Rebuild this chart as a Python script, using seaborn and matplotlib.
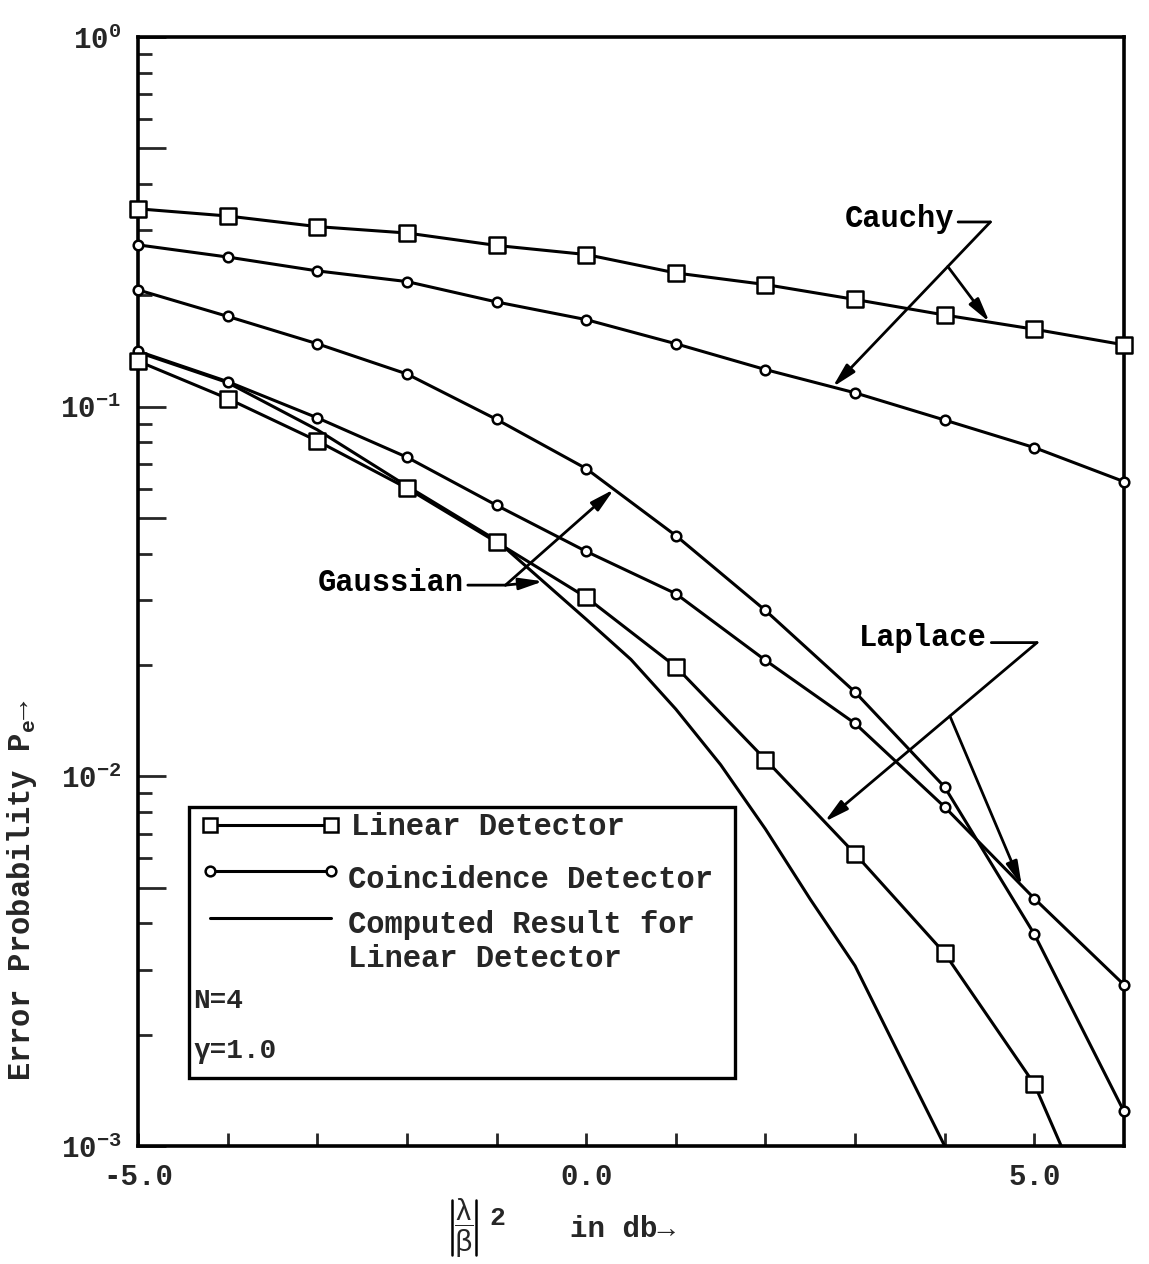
import numpy as np
import matplotlib
matplotlib.use("Agg")
import matplotlib.pyplot as plt
from matplotlib.ticker import FixedLocator, FuncFormatter, NullFormatter
from matplotlib.patches import Rectangle
from matplotlib.lines import Line2D
import seaborn as sns

# Signal-to-noise ratio |lambda/beta|^2 in dB
snr_db = [-5, -4, -3, -2, -1, 0, 1, 2, 3, 4, 5, 6]

# Error probabilities, N = 4, gamma = 1.0
cauchy_linear = [0.343, 0.328, 0.307, 0.295, 0.273, 0.258, 0.230, 0.214, 0.195, 0.177, 0.162, 0.147]
cauchy_coincidence = [0.274, 0.254, 0.233, 0.218, 0.192, 0.172, 0.148, 0.126, 0.109, 0.092, 0.0775, 0.0627]
gaussian_coincidence = [0.207, 0.1755, 0.148, 0.1226, 0.0924, 0.068, 0.0448, 0.0281, 0.0169, 0.00935, 0.00374, 0.00124]
laplace_coincidence = [0.1413, 0.1169, 0.0933, 0.073, 0.0541, 0.0406, 0.0312, 0.0206, 0.0139, 0.00826, 0.00467, 0.00273]

laplace_linear_db = [-5, -4, -3, -2, -1, 0, 1, 2, 3, 4, 5, 5.3]
laplace_linear = [0.1328, 0.1052, 0.0808, 0.0602, 0.043, 0.0305, 0.0198, 0.0111, 0.00617, 0.00332, 0.00147, 0.001]

computed_db = [-5, -4, -3, -2, -1, 0, 0.5, 1, 1.5, 2, 2.5, 3, 3.5, 4]
computed_linear = [0.1404, 0.1162, 0.0866, 0.061, 0.0435, 0.0266, 0.0207, 0.0152, 0.01075,
                   0.0072, 0.00465, 0.00307, 0.00175, 0.001]

x_ticks_labelled = [-5, 0, 5]
x_ticks_minor = [-4, -3, -2, -1, 1, 2, 3, 4]

sns.set_style("ticks")
plt.rcParams["font.family"] = ["Liberation Mono", "DejaVu Sans Mono"]
plt.rcParams["font.weight"] = "bold"
plt.rcParams["mathtext.default"] = "regular"
plt.rcParams["mathtext.fontset"] = "stix"

fig = plt.figure(figsize=(11.49, 12.64), dpi=100)
ax = fig.add_axes([0.1201, 0.0934, 0.8581, 0.8773])
ax.set_yscale("log")


def curve(x, y):
    sns.lineplot(x=x, y=y, ax=ax, color="black", linewidth=2.2, estimator=None, zorder=2)


def marks(x, y, shape, size):
    sns.scatterplot(x=x, y=y, ax=ax, marker=shape, s=size, color="white",
                    edgecolor="black", linewidth=1.8, zorder=4, clip_on=False, legend=False)


SQ, CI = 125, 48

curve(snr_db, cauchy_linear)
marks(snr_db, cauchy_linear, "s", SQ)
curve(snr_db, cauchy_coincidence)
marks(snr_db, cauchy_coincidence, "o", CI)
curve(snr_db, gaussian_coincidence)
marks(snr_db, gaussian_coincidence, "o", CI)
curve(snr_db, laplace_coincidence)
marks(snr_db, laplace_coincidence, "o", CI)
curve(laplace_linear_db, laplace_linear)
marks(laplace_linear_db[:11], laplace_linear[:11], "s", SQ)
curve(computed_db, computed_linear)

ax.set_xlim(-5, 6)
ax.set_ylim(1e-3, 1)
ax.set_xlabel("")
ax.set_ylabel("")

# x axis: inward ticks at every dB, labels at -5, 0, 5
ax.xaxis.set_major_locator(FixedLocator(x_ticks_labelled))
ax.xaxis.set_minor_locator(FixedLocator(x_ticks_minor))
ax.xaxis.set_major_formatter(FuncFormatter(lambda v, p: f"{v:.1f}"))
ax.xaxis.set_minor_formatter(NullFormatter())
ax.tick_params(axis="x", which="both", direction="in", length=9.5, width=2,
               top=False, labelsize=21, pad=12)

# y axis: long ticks at decades and 5x decades, short ticks elsewhere
decades = [1e-3, 1e-2, 1e-1, 1.0]
long_ticks = sorted(decades + [5e-3, 5e-2, 5e-1])
short_ticks = [k * 10.0 ** d for d in (-3, -2, -1) for k in (2, 3, 4, 6, 7, 8, 9)]


def decade_label(v, pos):
    e = int(round(np.log10(v)))
    if np.isclose(v, 10.0 ** e):
        return r"$10^{%d}$" % e
    return ""


ax.yaxis.set_major_locator(FixedLocator(long_ticks))
ax.yaxis.set_minor_locator(FixedLocator(short_ticks))
ax.yaxis.set_major_formatter(FuncFormatter(decade_label))
ax.yaxis.set_minor_formatter(NullFormatter())
ax.tick_params(axis="y", which="major", direction="in", length=20, width=2,
               right=False, labelsize=21, pad=12)
ax.tick_params(axis="y", which="minor", direction="in", length=10, width=2, right=False)

for s in ax.spines.values():
    s.set_linewidth(2.6)
    s.set_color("black")

# Curve family annotations
txt_kw = dict(fontsize=22, fontweight="bold", ha="left", va="baseline", color="black")
arrow_kw = dict(arrowstyle="-|>,head_length=0.9,head_width=0.22", color="black", lw=2.0,
                mutation_scale=16, shrinkA=0, shrinkB=0)
line_kw = dict(arrowstyle="-", color="black", lw=2.0, shrinkA=0, shrinkB=0)


def on_curve(xs, ys, x):
    return 10 ** np.interp(x, xs, np.log10(ys))


def along(p0, p1, t):
    x = p0[0] + t * (p1[0] - p0[0])
    ly = np.log10(p0[1]) + t * (np.log10(p1[1]) - np.log10(p0[1]))
    return (x, 10 ** ly)


def arrow(start, end):
    ax.annotate("", xy=end, xytext=start, arrowprops=arrow_kw, annotation_clip=False)


def leader(start, end):
    ax.annotate("", xy=end, xytext=start, arrowprops=line_kw, annotation_clip=False)


# Cauchy
ax.text(2.88, 0.3065, "Cauchy", **txt_kw)
c_elbow = (4.51, 0.316)
leader((4.15, 0.316), c_elbow)
c_tip = (2.75, on_curve(snr_db, cauchy_coincidence, 2.75))
arrow(c_elbow, c_tip)
arrow(along(c_elbow, c_tip, 0.27), (4.5, on_curve(snr_db, cauchy_linear, 4.5)))

# Gaussian
ax.text(-3.0, 0.0317, "Gaussian", **txt_kw)
g_elbow = (-0.90, 0.0329)
leader((-1.32, 0.0329), g_elbow)
arrow(g_elbow, (0.31, on_curve(snr_db, gaussian_coincidence, 0.31)))
arrow(g_elbow, (-0.48, on_curve(computed_db, computed_linear, -0.48)))

# Laplace
ax.text(3.04, 0.02245, "Laplace", **txt_kw)
l_elbow = (5.03, 0.0230)
leader((4.52, 0.0230), l_elbow)
l_tip = (2.66, on_curve(laplace_linear_db, laplace_linear, 2.66))
arrow(l_elbow, l_tip)
arrow(along(l_elbow, l_tip, 0.41), (4.86, on_curve(snr_db, laplace_coincidence, 4.86)))

# Key box
T = ax.transAxes
ax.add_patch(Rectangle((0.0517, 0.0613), 0.5538, 0.2444, transform=T, facecolor="white",
                       edgecolor="black", lw=2.4, zorder=6))
key_lines = [
    (0.2895, dict(marker="s", markersize=10.5)),
    (0.2480, dict(marker="o", markersize=7)),
    (0.2056, dict(marker=None)),
]
for yk, mk in key_lines:
    ax.add_line(Line2D([0.073, 0.196], [yk, yk], transform=T, color="black", lw=2.2,
                       markerfacecolor="white", markeredgecolor="black",
                       markeredgewidth=1.8, zorder=7, **mk))

key_kw = dict(transform=T, fontsize=22, fontweight="bold", ha="left", va="baseline", zorder=8)
ax.text(0.216, 0.2804, "Linear Detector", **key_kw)
ax.text(0.213, 0.2326, "Coincidence Detector", **key_kw)
ax.text(0.213, 0.1921, "Computed Result for", **key_kw)
ax.text(0.213, 0.1614, "Linear Detector", **key_kw)
ax.text(0.056, 0.1244, "N=4", **{**key_kw, "fontsize": 20})
ax.text(0.056, 0.0794, "\u03b3=1.0", **{**key_kw, "fontsize": 20})

# Axis titles
fig.text(0.019, 0.2959, r"Error Probability $P_e$" + "\u2192",
         rotation=90, fontsize=22, fontweight="bold", ha="center", va="center")

# |lambda/beta|^2 in db
F = fig.transFigure
fig.text(0.4039, 0.0285, r"$\dfrac{\lambda}{\beta}$", fontsize=21, fontweight="normal",
         ha="center", va="center")
for xb in (0.3934, 0.4143):
    fig.add_artist(Line2D([xb, xb], [0.0070, 0.0506], transform=F, color="black", lw=1.8))
fig.text(0.4325, 0.0365, "2", fontsize=19, fontweight="bold", ha="center", va="center")
fig.text(0.496, 0.0214, "in db\u2192", fontsize=21, fontweight="bold",
         ha="left", va="baseline")

fig.savefig("out.png", dpi=100, facecolor="white")
